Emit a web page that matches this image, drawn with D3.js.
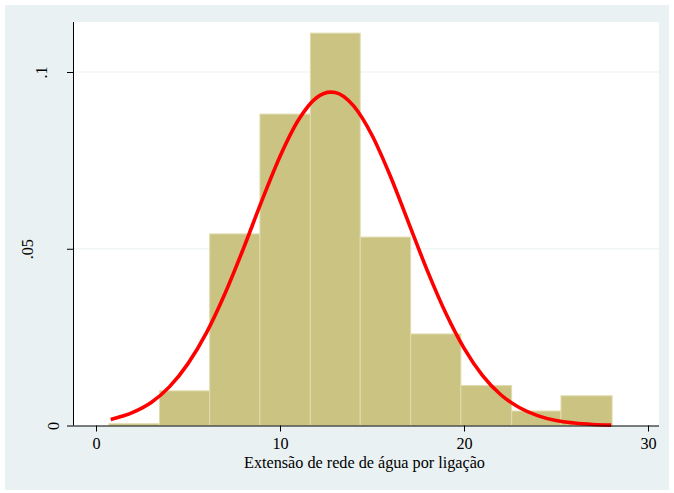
<!DOCTYPE html>
<html>
<head>
<meta charset="utf-8">
<script src="https://cdn.jsdelivr.net/npm/d3@7"></script>
<style>
  body { margin: 0; background: #fff; }
  text { font-family: "Liberation Serif", "Times New Roman", serif; fill: #000; }
</style>
</head>
<body>
<div id="chart"></div>
<script>
/** histogram bins (left edges) and densities */
let binEdges = [0.70, 3.45, 6.18, 8.91, 11.65, 14.36, 17.10, 19.83, 22.59, 25.27, 28.05];
let densities = [0.0005, 0.0098, 0.0542, 0.0881, 0.1110, 0.0533, 0.0259, 0.0113, 0.0041, 0.0084];

/** normal density overlay */
let curveX = [0.8, 2, 3, 4, 5, 6, 7, 8, 9, 10, 11, 12, 12.77, 13, 14, 15, 16, 17, 18, 19, 20, 21, 22, 23, 24, 25, 26, 27, 28];
let curveY = [0.0017, 0.0037, 0.0065, 0.0110, 0.0175, 0.0262, 0.0372, 0.0499, 0.0634, 0.0761, 0.0864, 0.0928, 0.0943, 0.0942,
  0.0904, 0.0821, 0.0705, 0.0572, 0.0439, 0.0319, 0.0219, 0.0142, 0.0087, 0.0051, 0.0028, 0.0014, 0.0007, 0.0003, 0.0001];

let xTicks = [0, 10, 20, 30];
let yTicks = [0, 0.05, 0.1];
let yTickLabels = ['0', '.05', '.1'];
let xTitle = 'Extensão de rede de água por ligação';

let width = 674;
let height = 493;
let fontSize = '16.2px';

// baseline x of each rotated y label (Stata places them unevenly)
let yLabelBaseline = [59, 33, 47];

let svg = d3.select('#chart')
  .append('svg')
  .attr('width', width)
  .attr('height', height);

// outer graph region
svg.append('rect')
  .attr('x', 5).attr('y', 5)
  .attr('width', 664).attr('height', 485)
  .attr('fill', '#eaf1f3');

let plot = { left: 73, right: 659, top: 22, bottom: 425.5 };

svg.append('rect')
  .attr('x', plot.left).attr('y', plot.top)
  .attr('width', plot.right - plot.left).attr('height', plot.bottom - plot.top)
  .attr('fill', '#fff');

let x = d3.scaleLinear().domain([0, 30]).range([96, 648]);
let y = d3.scaleLinear().domain([0, 0.1]).range([425.5, 72]);

// grid lines
svg.selectAll('.grid')
  .data(yTicks.filter(d => d > 0))
  .enter()
  .append('line')
  .attr('class', 'grid')
  .attr('x1', plot.left).attr('x2', plot.right)
  .attr('y1', d => y(d)).attr('y2', d => y(d))
  .attr('stroke', '#eaf1f3')
  .attr('stroke-width', 1.2);

// bars
svg.selectAll('.bar')
  .data(densities)
  .enter()
  .append('rect')
  .attr('class', 'bar')
  .attr('x', (d, i) => x(binEdges[i]))
  .attr('width', (d, i) => x(binEdges[i + 1]) - x(binEdges[i]))
  .attr('y', d => y(d))
  .attr('height', d => y(0) - y(d))
  .attr('fill', '#cbc382')
  .attr('stroke', '#e0dcae')
  .attr('stroke-width', 1);

// normal curve
let line = d3.line()
  .x(d => x(d[0]))
  .y(d => y(d[1]))
  .curve(d3.curveMonotoneX);

svg.append('path')
  .datum(curveX.map((v, i) => [v, curveY[i]]))
  .attr('d', line)
  .attr('fill', 'none')
  .attr('stroke', '#ff0000')
  .attr('stroke-width', 3.6);

// x axis
let xAxis = d3.axisBottom(x)
  .tickValues(xTicks)
  .tickSize(6)
  .tickFormat(d3.format('d'));

let gx = svg.append('g')
  .attr('transform', `translate(0,${plot.bottom})`)
  .call(xAxis);
gx.select('.domain').attr('d', `M${plot.left},0.5H${plot.right}`).attr('stroke', '#000');
gx.selectAll('.tick line').attr('stroke', '#000');
gx.selectAll('.tick text')
  .attr('y', 449 - plot.bottom)
  .attr('dy', null)
  .style('font-size', fontSize)
  .style('font-family', '"Liberation Serif", serif');

// y axis
let yAxis = d3.axisLeft(y)
  .tickValues(yTicks)
  .tickSize(6)
  .tickFormat((d, i) => yTickLabels[i]);

let gy = svg.append('g')
  .attr('transform', `translate(${plot.left},0)`)
  .call(yAxis);
gy.select('.domain').attr('d', `M0.5,${plot.top}V${plot.bottom}`).attr('stroke', '#000');
gy.selectAll('.tick line').attr('stroke', '#000');
gy.selectAll('.tick text')
  .attr('x', 0).attr('dy', null)
  .attr('transform', (d, i) => `translate(${yLabelBaseline[i] - plot.left},0) rotate(-90)`)
  .attr('text-anchor', 'middle')
  .style('font-size', fontSize)
  .style('font-family', '"Liberation Serif", serif');

// x title
svg.append('text')
  .attr('x', 364.5)
  .attr('y', 467.5)
  .attr('text-anchor', 'middle')
  .style('font-size', fontSize)
  .text(xTitle);
</script>
</body>
</html>
